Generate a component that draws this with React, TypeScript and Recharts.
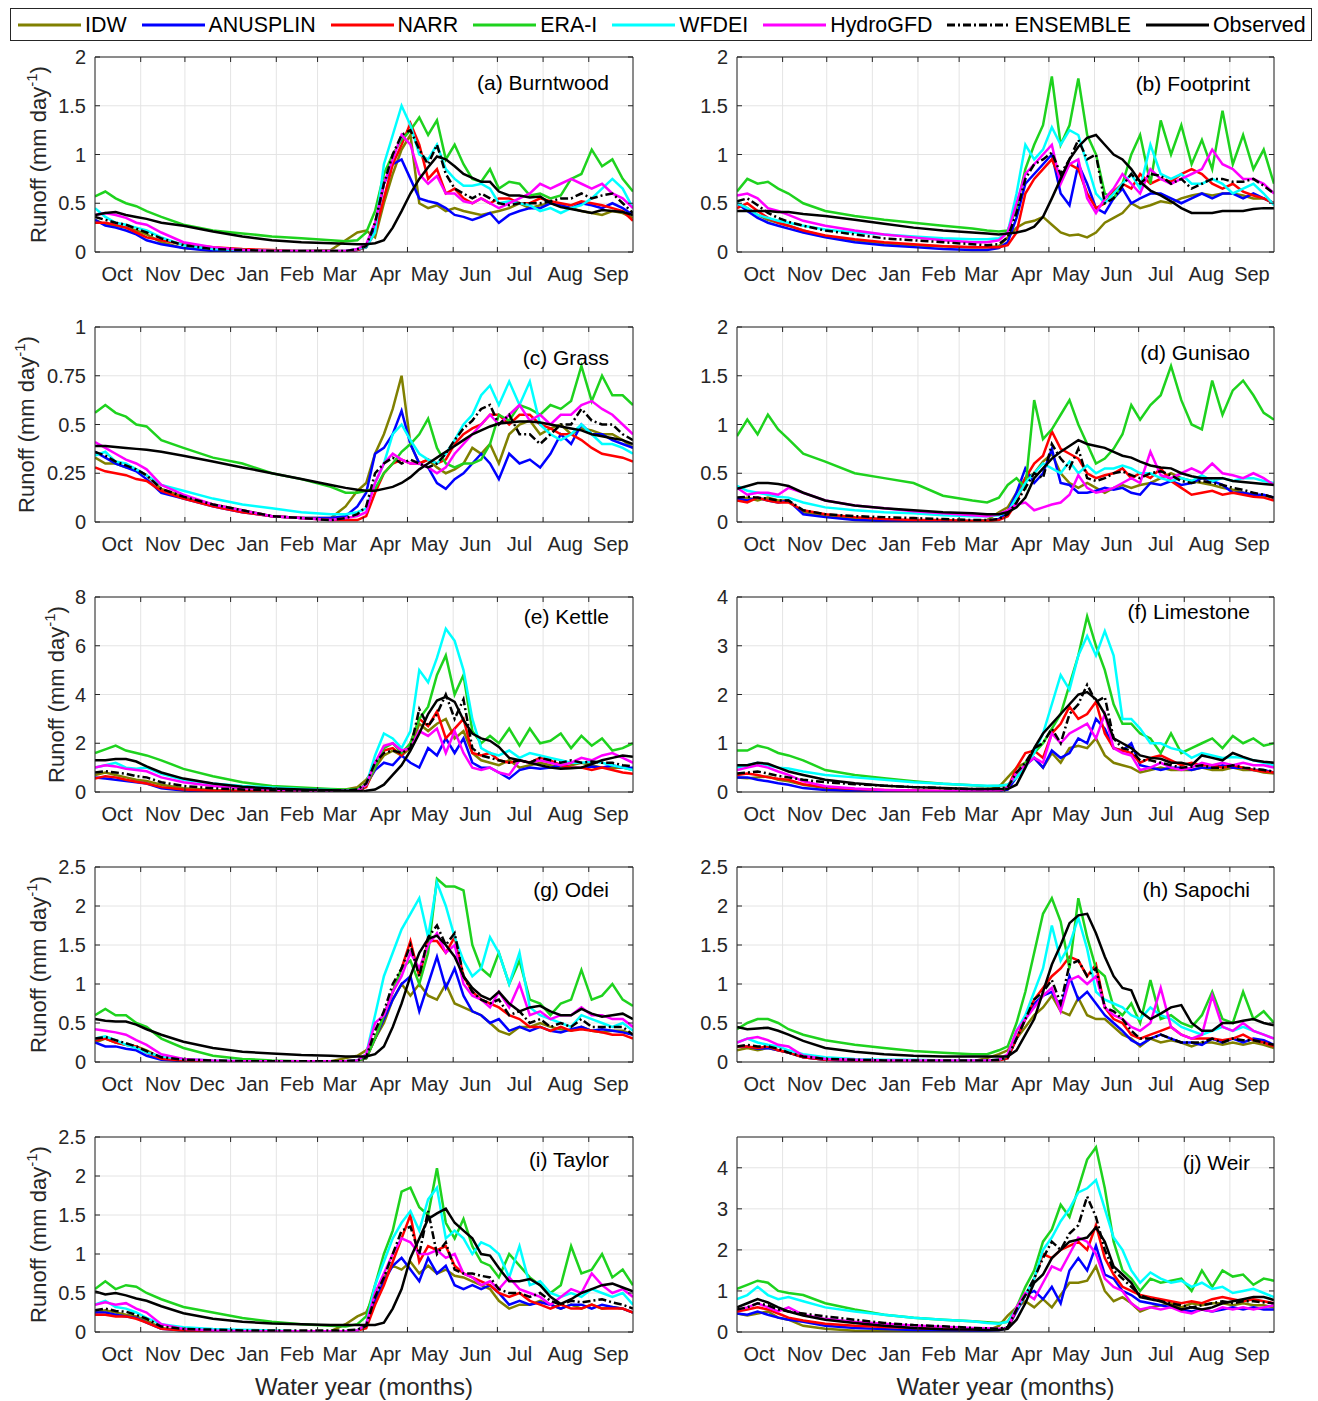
import React from 'react';
import { LineChart, Line, XAxis, YAxis, CartesianGrid } from 'recharts';

// Day of the water year (0 = 1 Oct) at which each runoff value is sampled
const DAYS = [0, 7, 14, 21, 28, 35, 45, 60, 80, 100, 120, 140, 160, 170,
  178, 184, 190, 196, 202, 208, 214, 220, 226, 232,
  238, 244, 250, 256, 262, 268, 274, 281, 288, 295,
  302, 309, 316, 323, 330, 337, 344, 351, 358, 365];

const MONTH_STARTS = [31, 61, 92, 123, 151, 182, 212, 243, 273, 304, 335];
const MONTH_MIDS = [15, 46, 76, 107, 137, 166, 197, 227, 258, 288, 319, 350];
const MONTH_LABELS = ['Oct', 'Nov', 'Dec', 'Jan', 'Feb', 'Mar', 'Apr', 'May', 'Jun', 'Jul', 'Aug', 'Sep'];

// (a) Burntwood
const burntwoodIdw = [0.33,0.28,0.27,0.25,0.22,0.18,0.10,0.04,0.02,0.01,0.005,0.01,0.02,0.12, 0.20,0.22,0.15,0.50,0.80,1.05,1.20,0.50,0.45,0.48, 0.42,0.45,0.42,0.40,0.38,0.40,0.42,0.45,0.50,0.45, 0.48,0.50,0.48,0.45,0.42,0.40,0.38,0.42,0.40,0.35];
const burntwoodAnu = [0.33,0.27,0.25,0.22,0.18,0.12,0.08,0.04,0.01,0.005,0,0,0,0, 0.02,0.05,0.25,0.70,0.90,0.95,0.75,0.55,0.52,0.50, 0.45,0.38,0.36,0.33,0.36,0.40,0.30,0.38,0.42,0.45, 0.45,0.50,0.48,0.45,0.50,0.48,0.45,0.50,0.45,0.38];
const burntwoodNarr = [0.30,0.30,0.28,0.25,0.20,0.15,0.12,0.08,0.05,0.03,0.02,0.01,0.01,0.01, 0.02,0.05,0.20,0.55,0.90,1.10,1.32,1.10,0.75,0.85, 0.60,0.65,0.55,0.50,0.55,0.50,0.55,0.55,0.50,0.50, 0.55,0.52,0.50,0.48,0.52,0.50,0.48,0.45,0.42,0.32];
const burntwoodEra = [0.57,0.62,0.55,0.50,0.47,0.42,0.36,0.28,0.22,0.19,0.16,0.14,0.12,0.11, 0.12,0.20,0.42,0.80,1.00,1.15,1.25,1.38,1.20,1.35, 0.95,1.10,0.90,0.75,0.72,0.85,0.65,0.72,0.70,0.58, 0.60,0.55,0.58,0.75,0.80,1.05,0.88,0.95,0.75,0.62];
const burntwoodWfdei = [0.45,0.36,0.30,0.28,0.25,0.22,0.15,0.07,0.03,0.02,0.01,0.01,0.01,0.01, 0.03,0.05,0.20,0.90,1.20,1.50,1.30,1.00,0.95,1.10, 0.85,0.75,0.68,0.68,0.70,0.65,0.50,0.52,0.50,0.48, 0.42,0.45,0.40,0.45,0.48,0.55,0.65,0.75,0.65,0.45];
const burntwoodHydro = [0.38,0.40,0.38,0.35,0.30,0.28,0.20,0.10,0.05,0.02,0.01,0.01,0.01,0.01, 0.03,0.08,0.30,0.70,0.95,1.20,1.10,0.80,0.70,0.78, 0.60,0.60,0.52,0.50,0.55,0.50,0.45,0.50,0.55,0.60, 0.70,0.65,0.70,0.75,0.70,0.65,0.70,0.60,0.55,0.45];
const burntwoodEns = [0.36,0.33,0.30,0.28,0.24,0.20,0.14,0.07,0.03,0.02,0.01,0.01,0.01,0.01, 0.03,0.06,0.30,0.70,1.00,1.20,1.25,1.05,0.90,1.10, 0.80,0.65,0.60,0.55,0.60,0.55,0.50,0.48,0.50,0.50, 0.50,0.52,0.55,0.55,0.60,0.55,0.58,0.60,0.50,0.40];
const burntwoodObs = [0.38,0.40,0.41,0.38,0.36,0.34,0.30,0.27,0.21,0.16,0.12,0.10,0.09,0.085, 0.08,0.08,0.09,0.12,0.25,0.42,0.60,0.75,0.87,0.98, 0.95,0.88,0.80,0.76,0.72,0.72,0.62,0.58,0.58,0.56, 0.57,0.50,0.46,0.44,0.42,0.40,0.43,0.42,0.41,0.38];

// (b) Footprint
const footprintIdw = [0.50,0.45,0.38,0.33,0.30,0.27,0.22,0.16,0.12,0.09,0.07,0.06,0.05,0.05, 0.06,0.15,0.25,0.30,0.32,0.36,0.28,0.20,0.17,0.18, 0.15,0.20,0.30,0.35,0.40,0.50,0.45,0.48,0.52,0.50, 0.55,0.58,0.60,0.58,0.60,0.60,0.58,0.55,0.55,0.50];
const footprintAnu = [0.50,0.42,0.35,0.30,0.27,0.24,0.20,0.15,0.10,0.07,0.05,0.03,0.02,0.02, 0.04,0.10,0.35,0.70,0.80,0.90,1.00,0.60,0.48,0.90, 0.70,0.45,0.40,0.55,0.65,0.50,0.55,0.60,0.60,0.55, 0.50,0.55,0.60,0.55,0.60,0.60,0.55,0.60,0.55,0.50];
const footprintNarr = [0.45,0.50,0.42,0.35,0.30,0.27,0.22,0.17,0.13,0.10,0.08,0.06,0.05,0.05, 0.05,0.07,0.20,0.60,0.75,0.85,0.95,0.75,0.90,0.85, 0.60,0.45,0.50,0.62,0.70,0.65,0.80,0.70,0.75,0.72, 0.80,0.85,0.80,0.70,0.65,0.70,0.62,0.58,0.55,0.50];
const footprintEra = [0.62,0.75,0.70,0.72,0.65,0.60,0.50,0.42,0.37,0.33,0.30,0.27,0.24,0.22, 0.21,0.22,0.45,0.85,1.10,1.30,1.80,1.10,1.30,1.78, 1.20,1.00,0.60,0.55,0.70,1.00,1.20,0.70,1.35,1.00, 1.30,0.90,1.15,0.85,1.45,0.90,1.20,0.85,1.05,0.70];
const footprintWfdei = [0.50,0.45,0.38,0.35,0.32,0.30,0.27,0.23,0.20,0.18,0.16,0.14,0.13,0.13, 0.14,0.20,0.60,1.10,0.95,1.05,1.28,1.10,1.25,1.20, 0.90,0.60,0.50,0.60,0.70,0.80,0.65,1.10,0.80,0.75, 0.80,0.70,0.70,0.75,0.70,0.60,0.65,0.70,0.60,0.48];
const footprintHydro = [0.58,0.60,0.55,0.45,0.42,0.38,0.32,0.27,0.22,0.18,0.15,0.12,0.10,0.10, 0.12,0.20,0.50,0.80,0.90,1.00,1.10,0.70,0.90,0.95, 0.55,0.40,0.55,0.65,0.80,0.70,0.60,0.85,0.75,0.70, 0.75,0.80,0.85,1.05,0.90,0.85,0.75,0.75,0.70,0.60];
const footprintEns = [0.52,0.55,0.48,0.40,0.35,0.31,0.27,0.22,0.18,0.14,0.12,0.10,0.08,0.07, 0.08,0.15,0.40,0.75,0.90,0.95,1.02,0.80,0.95,1.15, 0.95,1.00,0.50,0.55,0.68,0.80,0.70,0.80,0.78,0.70, 0.75,0.65,0.70,0.75,0.75,0.72,0.72,0.75,0.68,0.60];
const footprintObs = [0.42,0.42,0.42,0.42,0.41,0.41,0.39,0.37,0.33,0.29,0.25,0.22,0.20,0.19, 0.18,0.19,0.20,0.22,0.26,0.36,0.55,0.75,0.95,1.08, 1.17,1.20,1.10,1.00,0.95,0.85,0.72,0.63,0.58,0.52, 0.45,0.40,0.40,0.40,0.42,0.42,0.42,0.44,0.45,0.45];

// (c) Grass
const grassIdw = [0.33,0.30,0.30,0.28,0.27,0.24,0.17,0.13,0.09,0.06,0.03,0.02,0.02,0.08, 0.16,0.20,0.35,0.45,0.58,0.75,0.40,0.30,0.32,0.28, 0.25,0.27,0.30,0.38,0.35,0.40,0.30,0.45,0.50,0.52, 0.45,0.48,0.50,0.45,0.48,0.47,0.45,0.45,0.42,0.38];
const grassAnu = [0.36,0.33,0.30,0.28,0.26,0.22,0.15,0.12,0.08,0.05,0.03,0.02,0.02,0.03, 0.08,0.15,0.35,0.38,0.45,0.57,0.40,0.30,0.28,0.20, 0.17,0.22,0.25,0.30,0.35,0.30,0.22,0.35,0.30,0.32, 0.28,0.35,0.45,0.40,0.50,0.45,0.45,0.42,0.40,0.38];
const grassNarr = [0.28,0.26,0.25,0.24,0.22,0.21,0.16,0.12,0.08,0.05,0.03,0.02,0.01,0.01, 0.01,0.03,0.15,0.25,0.30,0.32,0.30,0.30,0.32,0.30, 0.32,0.40,0.45,0.48,0.50,0.55,0.55,0.50,0.55,0.55, 0.50,0.48,0.45,0.45,0.42,0.38,0.35,0.34,0.33,0.31];
const grassEra = [0.56,0.60,0.56,0.54,0.50,0.49,0.42,0.38,0.33,0.30,0.25,0.22,0.18,0.15, 0.15,0.16,0.17,0.25,0.30,0.36,0.40,0.45,0.53,0.38, 0.30,0.28,0.30,0.30,0.32,0.40,0.55,0.52,0.60,0.58, 0.55,0.60,0.58,0.62,0.80,0.62,0.75,0.65,0.65,0.60];
const grassWfdei = [0.34,0.36,0.31,0.30,0.27,0.24,0.19,0.16,0.12,0.09,0.07,0.05,0.04,0.04, 0.05,0.07,0.20,0.30,0.45,0.50,0.42,0.35,0.32,0.30, 0.35,0.42,0.50,0.55,0.65,0.70,0.60,0.72,0.60,0.72, 0.50,0.45,0.42,0.45,0.50,0.45,0.40,0.40,0.38,0.35];
const grassHydro = [0.41,0.38,0.35,0.32,0.30,0.27,0.19,0.14,0.09,0.06,0.03,0.02,0.01,0.02, 0.03,0.05,0.20,0.30,0.35,0.32,0.30,0.30,0.28,0.25, 0.28,0.35,0.40,0.45,0.50,0.55,0.50,0.55,0.60,0.52, 0.55,0.50,0.55,0.55,0.60,0.62,0.58,0.55,0.50,0.45];
const grassEns = [0.36,0.34,0.31,0.29,0.27,0.24,0.17,0.13,0.09,0.06,0.03,0.02,0.01,0.02, 0.04,0.08,0.25,0.30,0.33,0.30,0.32,0.30,0.28,0.30, 0.35,0.42,0.48,0.52,0.58,0.60,0.50,0.55,0.45,0.45, 0.40,0.45,0.50,0.50,0.58,0.52,0.50,0.50,0.45,0.42];
const grassObs = [0.39,0.39,0.385,0.38,0.375,0.37,0.36,0.34,0.31,0.28,0.25,0.22,0.19,0.175, 0.165,0.16,0.16,0.17,0.18,0.20,0.23,0.27,0.30,0.33, 0.36,0.39,0.42,0.45,0.47,0.49,0.505,0.51,0.515,0.515, 0.51,0.50,0.49,0.48,0.47,0.45,0.44,0.43,0.42,0.40];

// (d) Gunisao
const gunisaoIdw = [0.22,0.25,0.22,0.25,0.22,0.22,0.10,0.06,0.03,0.02,0.01,0.01,0.01,0.02, 0.10,0.15,0.30,0.45,0.50,0.62,0.70,0.50,0.40,0.35, 0.40,0.35,0.30,0.35,0.38,0.35,0.38,0.40,0.45,0.50, 0.45,0.42,0.40,0.38,0.35,0.33,0.30,0.28,0.27,0.25];
const gunisaoAnu = [0.24,0.22,0.25,0.22,0.20,0.22,0.08,0.05,0.02,0.01,0.01,0.01,0.01,0.01, 0.03,0.10,0.30,0.55,0.40,0.50,0.75,0.40,0.38,0.30, 0.30,0.32,0.35,0.33,0.35,0.30,0.28,0.40,0.38,0.42, 0.38,0.40,0.45,0.42,0.38,0.30,0.30,0.28,0.28,0.25];
const gunisaoNarr = [0.22,0.20,0.25,0.22,0.20,0.20,0.12,0.08,0.05,0.03,0.02,0.02,0.01,0.01, 0.02,0.06,0.20,0.45,0.60,0.68,0.93,0.75,0.70,0.65, 0.50,0.45,0.48,0.50,0.55,0.45,0.50,0.45,0.55,0.42, 0.35,0.28,0.30,0.32,0.28,0.30,0.28,0.26,0.25,0.22];
const gunisaoEra = [0.88,1.05,0.90,1.10,0.95,0.85,0.70,0.62,0.50,0.45,0.40,0.27,0.22,0.20, 0.25,0.38,0.45,0.35,1.25,0.85,0.95,1.10,1.25,1.00, 0.80,0.60,0.65,0.75,0.90,1.20,1.05,1.20,1.30,1.60, 1.25,1.00,0.95,1.45,1.10,1.35,1.45,1.30,1.12,1.05];
const gunisaoWfdei = [0.37,0.32,0.30,0.28,0.26,0.25,0.20,0.15,0.12,0.10,0.09,0.07,0.06,0.06, 0.07,0.10,0.25,0.40,0.50,0.60,0.55,0.50,0.62,0.50, 0.58,0.50,0.55,0.55,0.58,0.55,0.50,0.50,0.45,0.42, 0.45,0.42,0.48,0.42,0.45,0.42,0.45,0.45,0.42,0.40];
const gunisaoHydro = [0.35,0.28,0.30,0.30,0.28,0.35,0.30,0.22,0.17,0.14,0.11,0.09,0.07,0.06, 0.08,0.12,0.18,0.20,0.12,0.15,0.18,0.20,0.28,0.48, 0.35,0.30,0.32,0.35,0.40,0.45,0.40,0.72,0.48,0.45, 0.50,0.55,0.50,0.60,0.50,0.48,0.45,0.50,0.45,0.38];
const gunisaoEns = [0.25,0.26,0.25,0.24,0.22,0.22,0.12,0.08,0.06,0.05,0.04,0.03,0.02,0.02, 0.03,0.08,0.20,0.35,0.50,0.45,0.80,0.65,0.55,0.75, 0.45,0.42,0.45,0.50,0.52,0.48,0.45,0.50,0.52,0.48, 0.42,0.40,0.42,0.40,0.38,0.35,0.33,0.30,0.28,0.25];
const gunisaoObs = [0.34,0.37,0.40,0.40,0.39,0.37,0.30,0.22,0.17,0.14,0.12,0.10,0.09,0.08, 0.08,0.10,0.15,0.25,0.45,0.55,0.65,0.72,0.78,0.84, 0.80,0.78,0.76,0.72,0.68,0.66,0.62,0.58,0.56,0.55, 0.50,0.47,0.45,0.45,0.45,0.42,0.41,0.40,0.39,0.38];

// (e) Kettle
const kettleIdw = [0.70,0.80,0.70,0.60,0.50,0.45,0.30,0.15,0.08,0.05,0.04,0.04,0.05,0.10, 0.20,0.50,1.00,1.50,1.70,1.50,1.80,2.80,2.50,2.80, 3.00,2.20,2.50,1.60,1.30,1.20,1.10,1.30,1.00,1.10, 1.20,1.10,1.00,1.10,1.20,1.10,1.00,1.00,1.00,0.90];
const kettleAnu = [0.60,0.55,0.50,0.45,0.40,0.35,0.15,0.06,0.02,0.01,0.01,0.01,0.01,0.02, 0.05,0.30,0.90,1.20,1.10,1.50,1.20,1.00,1.80,1.50, 2.20,1.60,2.20,1.20,1.00,1.00,0.80,0.55,0.90,1.00, 0.95,1.00,1.10,1.00,1.00,1.05,1.00,1.10,1.00,1.00];
const kettleNarr = [0.55,0.65,0.60,0.50,0.42,0.35,0.20,0.10,0.05,0.03,0.02,0.02,0.02,0.03, 0.05,0.20,1.00,1.70,1.80,1.50,2.00,3.00,2.70,3.30, 2.20,2.60,3.00,1.60,1.50,1.60,1.30,1.20,1.30,1.20, 1.40,1.30,1.10,1.00,1.00,0.90,1.00,0.90,0.80,0.75];
const kettleEra = [1.60,1.75,1.90,1.70,1.60,1.50,1.30,0.95,0.65,0.40,0.25,0.18,0.12,0.10, 0.12,0.30,1.00,1.80,2.00,1.60,2.00,3.00,3.50,4.80, 5.60,4.00,4.80,2.50,2.00,2.30,2.00,2.60,1.90,2.60, 2.00,2.10,2.40,1.80,2.30,1.90,2.20,1.70,1.80,2.00];
const kettleWfdei = [1.00,1.10,1.20,1.00,0.95,1.00,0.75,0.50,0.35,0.25,0.18,0.12,0.08,0.06, 0.06,0.30,1.50,2.40,2.20,1.80,2.50,5.00,4.50,5.50, 6.70,6.20,5.00,3.00,1.80,1.60,1.50,1.70,1.40,1.60, 1.50,1.40,1.30,1.20,1.20,1.25,1.20,1.10,1.00,0.90];
const kettleHydro = [1.00,1.10,1.05,0.95,0.90,0.85,0.60,0.40,0.25,0.15,0.10,0.06,0.05,0.05, 0.06,0.30,1.20,1.90,2.00,1.70,1.80,2.50,2.30,2.60, 1.60,2.50,1.60,1.00,0.90,1.00,0.80,0.70,1.30,1.20, 1.30,1.20,1.10,1.20,1.40,1.30,1.50,1.60,1.40,1.20];
const kettleEns = [0.80,0.85,0.80,0.75,0.65,0.60,0.40,0.25,0.15,0.10,0.07,0.05,0.05,0.06, 0.10,0.35,1.20,1.60,1.70,1.60,1.80,3.40,2.70,3.20, 4.00,3.00,3.80,1.80,1.50,1.40,1.30,1.20,1.30,1.20, 1.40,1.30,1.20,1.30,1.20,1.25,1.20,1.20,1.10,1.05];
const kettleObs = [1.30,1.30,1.35,1.35,1.25,1.05,0.80,0.55,0.35,0.22,0.14,0.10,0.07,0.05, 0.04,0.05,0.10,0.30,0.70,1.10,1.70,2.40,3.20,3.75, 3.90,3.70,2.95,2.40,2.20,2.10,1.85,1.40,1.30,1.20, 1.10,1.00,0.95,0.97,1.00,1.15,1.30,1.40,1.50,1.45];

// (f) Limestone
const limestoneIdw = [0.30,0.28,0.30,0.32,0.25,0.22,0.15,0.08,0.04,0.02,0.02,0.02,0.02,0.05, 0.10,0.30,0.50,0.60,0.70,0.50,0.80,0.60,0.90,0.95, 0.90,1.10,0.75,0.60,0.55,0.50,0.40,0.45,0.50,0.45, 0.45,0.45,0.50,0.45,0.45,0.50,0.45,0.45,0.40,0.38];
const limestoneAnu = [0.30,0.30,0.25,0.22,0.18,0.15,0.08,0.04,0.02,0.01,0.01,0.01,0.01,0.01, 0.02,0.05,0.30,0.55,0.70,0.50,0.85,0.70,0.80,1.10, 1.00,1.50,1.30,0.90,0.85,1.00,0.55,0.50,0.45,0.50, 0.50,0.45,0.50,0.50,0.55,0.50,0.50,0.45,0.45,0.40];
const limestoneNarr = [0.35,0.38,0.35,0.30,0.27,0.25,0.16,0.10,0.06,0.04,0.03,0.02,0.02,0.02, 0.03,0.08,0.50,0.80,0.85,0.70,1.20,1.40,1.75,1.50, 1.60,1.85,1.20,0.90,0.85,0.80,0.60,0.70,0.75,0.65, 0.55,0.60,0.55,0.55,0.50,0.55,0.50,0.45,0.42,0.40];
const limestoneEra = [0.85,0.85,0.95,0.90,0.80,0.75,0.65,0.45,0.35,0.28,0.22,0.17,0.14,0.12, 0.13,0.15,0.30,0.60,0.80,1.00,1.30,1.60,2.20,2.80, 3.60,3.00,2.50,1.80,1.40,1.40,1.20,1.10,0.80,1.20, 0.80,0.90,1.00,1.10,0.90,1.15,1.00,1.10,0.95,1.00];
const limestoneWfdei = [0.50,0.55,0.60,0.55,0.50,0.48,0.42,0.35,0.30,0.25,0.20,0.17,0.14,0.13, 0.13,0.15,0.30,0.50,0.80,1.20,1.80,2.40,2.10,2.80, 3.20,2.80,3.30,2.80,1.50,1.50,1.30,1.00,1.00,0.90, 0.85,0.70,0.80,0.75,0.70,0.72,0.70,0.65,0.60,0.55];
const limestoneHydro = [0.45,0.50,0.55,0.50,0.42,0.35,0.22,0.12,0.07,0.04,0.03,0.02,0.02,0.02, 0.03,0.10,0.40,0.55,0.70,0.60,1.20,1.00,1.20,1.30, 1.40,1.10,1.60,0.90,0.80,0.75,0.45,0.50,0.60,0.50, 0.45,0.50,0.60,0.55,0.60,0.55,0.60,0.55,0.55,0.50];
const limestoneEns = [0.38,0.40,0.42,0.38,0.33,0.30,0.25,0.20,0.16,0.13,0.10,0.08,0.06,0.06, 0.07,0.10,0.40,0.60,0.90,1.00,1.30,1.00,1.60,1.80, 2.20,1.85,1.95,1.10,0.90,0.85,0.65,0.65,0.60,0.55, 0.50,0.52,0.55,0.50,0.50,0.55,0.50,0.48,0.45,0.42];
const limestoneObs = [0.55,0.55,0.60,0.58,0.50,0.42,0.35,0.25,0.18,0.13,0.10,0.08,0.06,0.06, 0.06,0.06,0.15,0.50,0.90,1.20,1.40,1.60,1.80,2.00, 2.05,1.90,1.60,1.10,1.00,0.90,0.75,0.70,0.68,0.60, 0.60,0.55,0.75,0.70,0.65,0.80,0.72,0.65,0.62,0.60];

// (g) Odei
const odeiIdw = [0.25,0.30,0.25,0.22,0.20,0.15,0.05,0.02,0.01,0.01,0.01,0.01,0.01,0.05, 0.08,0.15,0.30,0.50,0.80,1.00,0.85,1.00,0.85,0.80, 1.00,0.75,0.70,0.65,0.60,0.50,0.40,0.35,0.45,0.45, 0.50,0.45,0.42,0.40,0.45,0.40,0.38,0.40,0.40,0.35];
const odeiAnu = [0.25,0.20,0.20,0.17,0.15,0.08,0.03,0.01,0.01,0.01,0.01,0.01,0.01,0.01, 0.02,0.05,0.30,0.55,0.80,1.00,1.10,0.65,1.00,1.35, 0.95,1.20,0.85,0.65,0.60,0.50,0.55,0.40,0.45,0.40, 0.45,0.40,0.38,0.42,0.45,0.40,0.42,0.40,0.38,0.35];
const odeiNarr = [0.28,0.30,0.25,0.22,0.20,0.12,0.04,0.02,0.01,0.01,0.01,0.01,0.01,0.01, 0.02,0.05,0.30,0.60,0.90,1.20,1.55,1.10,1.55,1.55, 1.40,1.60,1.10,0.90,0.80,0.75,0.70,0.60,0.55,0.45, 0.45,0.40,0.45,0.40,0.42,0.40,0.38,0.35,0.35,0.30];
const odeiEra = [0.60,0.68,0.60,0.60,0.50,0.45,0.30,0.18,0.08,0.04,0.02,0.01,0.01,0.01, 0.02,0.05,0.30,0.60,0.90,1.20,1.30,1.00,1.40,2.35, 2.25,2.25,2.20,1.50,1.20,1.10,1.40,1.00,1.30,0.80, 0.75,0.60,0.75,0.80,1.18,0.80,0.85,1.00,0.80,0.72];
const odeiWfdei = [0.30,0.33,0.28,0.22,0.18,0.12,0.07,0.04,0.02,0.01,0.01,0.01,0.01,0.01, 0.02,0.10,0.60,1.10,1.40,1.70,1.90,2.10,1.60,2.30, 2.00,1.60,1.30,1.10,1.20,1.60,1.40,1.00,1.40,0.70, 0.60,0.55,0.50,0.45,0.60,0.55,0.50,0.45,0.50,0.40];
const odeiHydro = [0.42,0.40,0.38,0.35,0.28,0.22,0.10,0.04,0.02,0.01,0.01,0.01,0.01,0.01, 0.02,0.10,0.50,0.60,0.90,1.10,1.40,1.20,1.50,1.65, 1.40,1.50,1.00,0.85,0.80,0.70,0.90,0.70,1.00,0.60, 0.65,0.55,0.60,0.60,0.70,0.60,0.60,0.55,0.55,0.45];
const odeiEns = [0.30,0.32,0.28,0.24,0.20,0.14,0.06,0.03,0.02,0.01,0.01,0.01,0.01,0.01, 0.02,0.06,0.40,0.65,1.00,1.20,1.50,1.10,1.60,1.75, 1.50,1.65,1.10,0.90,0.80,0.75,0.80,0.60,0.65,0.50, 0.55,0.45,0.50,0.45,0.55,0.45,0.45,0.45,0.45,0.35];
const odeiObs = [0.55,0.53,0.52,0.52,0.48,0.42,0.35,0.26,0.18,0.13,0.11,0.09,0.08,0.07, 0.07,0.07,0.10,0.20,0.45,0.75,1.10,1.40,1.58,1.62, 1.50,1.35,1.10,0.95,0.85,0.80,0.90,0.75,0.65,0.70, 0.72,0.65,0.60,0.60,0.68,0.62,0.58,0.60,0.62,0.55];

// (h) Sapochi
const sapochiIdw = [0.15,0.18,0.15,0.18,0.15,0.12,0.06,0.03,0.02,0.01,0.01,0.01,0.01,0.05, 0.10,0.15,0.30,0.45,0.60,0.70,0.85,0.65,0.60,0.82, 0.60,0.55,0.55,0.45,0.35,0.30,0.20,0.30,0.25,0.28, 0.25,0.20,0.25,0.25,0.22,0.25,0.22,0.25,0.22,0.18];
const sapochiAnu = [0.20,0.20,0.17,0.18,0.15,0.12,0.06,0.03,0.01,0.01,0.01,0.01,0.01,0.01, 0.03,0.05,0.30,0.55,0.75,0.85,0.90,0.70,1.10,0.80, 0.90,0.75,0.60,0.50,0.40,0.28,0.22,0.30,0.35,0.30, 0.25,0.25,0.22,0.30,0.25,0.30,0.25,0.30,0.28,0.22];
const sapochiNarr = [0.20,0.20,0.18,0.20,0.15,0.12,0.06,0.03,0.02,0.01,0.01,0.01,0.01,0.01, 0.02,0.05,0.30,0.55,0.80,0.95,1.10,1.20,1.35,1.30, 1.10,1.25,0.70,0.55,0.50,0.35,0.30,0.35,0.40,0.45, 0.35,0.30,0.30,0.30,0.28,0.30,0.35,0.28,0.25,0.20];
const sapochiEra = [0.42,0.50,0.55,0.55,0.50,0.42,0.35,0.28,0.22,0.18,0.14,0.12,0.10,0.10, 0.15,0.20,0.50,0.90,1.40,1.90,2.10,1.80,1.20,2.10, 1.60,1.20,1.10,0.70,0.60,0.75,0.50,1.05,0.55,0.60, 0.50,0.45,0.60,0.90,0.55,0.50,0.90,0.55,0.65,0.50];
const sapochiWfdei = [0.25,0.30,0.25,0.22,0.20,0.15,0.10,0.06,0.04,0.03,0.03,0.02,0.02,0.02, 0.03,0.08,0.40,0.60,0.90,1.20,1.75,1.30,1.50,1.85, 1.45,0.90,0.80,0.75,0.70,0.60,0.55,0.70,0.60,0.55, 0.45,0.40,0.35,0.40,0.45,0.40,0.45,0.40,0.35,0.30];
const sapochiHydro = [0.25,0.30,0.32,0.28,0.22,0.20,0.08,0.04,0.03,0.02,0.02,0.02,0.02,0.02, 0.03,0.10,0.40,0.55,0.70,0.85,0.95,0.65,1.05,1.10, 1.00,1.10,0.70,0.60,0.55,0.45,0.40,0.50,0.95,0.45, 0.35,0.30,0.35,0.85,0.45,0.40,0.50,0.40,0.35,0.30];
const sapochiEns = [0.20,0.22,0.20,0.20,0.17,0.12,0.07,0.04,0.03,0.02,0.02,0.02,0.02,0.02, 0.03,0.06,0.30,0.55,0.80,0.90,1.05,0.75,1.25,1.30, 1.10,1.20,0.70,0.65,0.55,0.40,0.30,0.30,0.35,0.30, 0.25,0.25,0.25,0.30,0.25,0.30,0.28,0.28,0.25,0.22];
const sapochiObs = [0.45,0.42,0.43,0.44,0.40,0.35,0.27,0.18,0.13,0.10,0.08,0.07,0.07,0.07, 0.07,0.07,0.15,0.35,0.55,0.90,1.25,1.50,1.78,1.88, 1.90,1.65,1.35,1.10,0.95,0.92,0.65,0.55,0.62,0.70, 0.73,0.50,0.40,0.40,0.50,0.50,0.53,0.55,0.50,0.47];

// (i) Taylor
const taylorIdw = [0.25,0.28,0.25,0.22,0.20,0.15,0.05,0.02,0.01,0.01,0.01,0.01,0.01,0.10, 0.20,0.25,0.50,0.70,0.85,0.80,0.90,0.75,0.85,0.75, 0.80,0.72,0.70,0.65,0.60,0.55,0.40,0.30,0.35,0.35, 0.40,0.35,0.30,0.35,0.30,0.35,0.30,0.32,0.30,0.25];
const taylorAnu = [0.25,0.25,0.22,0.20,0.18,0.12,0.04,0.02,0.01,0.01,0.01,0.01,0.01,0.01, 0.02,0.10,0.40,0.65,0.85,0.95,0.80,0.65,0.95,0.75, 0.85,0.60,0.55,0.60,0.55,0.60,0.50,0.35,0.40,0.35, 0.38,0.35,0.30,0.35,0.35,0.30,0.35,0.32,0.30,0.25];
const taylorNarr = [0.22,0.22,0.20,0.20,0.17,0.12,0.04,0.02,0.01,0.01,0.01,0.01,0.01,0.01, 0.02,0.05,0.35,0.60,0.90,1.20,1.50,0.90,1.10,1.05, 1.10,0.85,0.75,0.70,0.65,0.60,0.50,0.45,0.50,0.40, 0.35,0.30,0.35,0.30,0.30,0.35,0.30,0.30,0.30,0.25];
const taylorEra = [0.55,0.65,0.55,0.60,0.58,0.50,0.42,0.32,0.25,0.18,0.13,0.10,0.08,0.07, 0.10,0.20,0.60,1.00,1.30,1.80,1.85,1.60,1.50,2.10, 1.40,1.20,1.45,1.10,0.90,0.85,0.70,1.00,0.85,0.70, 0.60,0.50,0.60,1.10,0.75,0.80,1.00,0.70,0.80,0.60];
const taylorWfdei = [0.35,0.40,0.32,0.30,0.25,0.18,0.10,0.06,0.04,0.03,0.02,0.01,0.01,0.01, 0.02,0.10,0.60,0.90,1.20,1.40,1.55,1.30,1.70,1.85, 1.20,1.30,1.20,1.00,1.15,1.10,1.00,0.70,1.10,0.60, 0.65,0.50,0.45,0.50,0.45,0.55,0.50,0.45,0.50,0.35];
const taylorHydro = [0.35,0.38,0.35,0.37,0.30,0.25,0.10,0.04,0.02,0.01,0.01,0.01,0.01,0.01, 0.02,0.10,0.50,0.75,1.00,1.20,1.15,1.00,1.00,1.05, 0.95,1.00,0.75,0.70,0.60,0.65,0.55,0.70,0.55,0.50, 0.45,0.35,0.45,0.55,0.50,0.75,0.60,0.50,0.55,0.45];
const taylorEns = [0.28,0.30,0.27,0.26,0.22,0.17,0.07,0.04,0.03,0.02,0.02,0.02,0.02,0.02, 0.03,0.08,0.45,0.70,1.00,1.30,1.35,1.00,1.55,1.00, 1.15,0.80,0.75,0.75,0.72,0.70,0.55,0.50,0.50,0.45, 0.50,0.40,0.35,0.40,0.38,0.40,0.42,0.38,0.35,0.30];
const taylorObs = [0.52,0.48,0.50,0.47,0.43,0.40,0.33,0.24,0.17,0.13,0.11,0.10,0.09,0.09, 0.09,0.09,0.09,0.12,0.30,0.55,0.95,1.20,1.45,1.52, 1.58,1.40,1.30,1.20,1.00,0.98,0.82,0.65,0.65,0.68, 0.60,0.45,0.36,0.42,0.50,0.55,0.60,0.62,0.57,0.52];

// (j) Weir
const weirIdw = [0.45,0.40,0.45,0.50,0.35,0.30,0.15,0.08,0.03,0.02,0.01,0.01,0.01,0.03, 0.15,0.40,0.60,0.75,0.60,0.80,0.60,0.90,1.20,1.20, 1.25,1.60,1.00,0.75,0.85,0.70,0.50,0.60,0.65,0.70, 0.60,0.70,0.65,0.70,0.70,0.65,0.70,0.65,0.65,0.60];
const weirAnu = [0.45,0.42,0.50,0.42,0.35,0.30,0.25,0.15,0.10,0.07,0.05,0.04,0.03,0.03, 0.04,0.10,0.50,0.90,1.00,0.80,1.10,0.70,1.50,1.80, 1.50,2.10,1.40,1.30,1.00,0.90,0.75,0.70,0.65,0.60, 0.55,0.50,0.55,0.50,0.55,0.60,0.55,0.60,0.55,0.55];
const weirNarr = [0.50,0.55,0.60,0.55,0.45,0.35,0.28,0.20,0.15,0.12,0.10,0.08,0.07,0.06, 0.06,0.10,0.55,0.90,1.30,1.90,1.80,2.00,2.10,2.20, 2.00,2.60,1.80,1.40,1.10,1.00,0.90,0.85,0.80,0.75, 0.70,0.75,0.70,0.80,0.85,0.80,0.75,0.80,0.75,0.70];
const weirEra = [1.05,1.15,1.25,1.20,1.00,0.95,0.90,0.70,0.55,0.42,0.35,0.30,0.26,0.24, 0.22,0.25,0.60,1.10,1.50,2.20,2.50,3.10,2.80,3.50, 4.20,4.50,3.50,2.20,1.50,1.30,1.00,1.30,1.20,1.25, 1.30,1.00,1.50,1.10,1.50,1.35,1.40,1.15,1.30,1.25];
const weirWfdei = [0.80,0.90,1.10,0.90,0.80,0.85,0.75,0.60,0.50,0.42,0.35,0.30,0.26,0.22, 0.20,0.25,0.55,0.90,1.30,2.00,2.30,2.70,3.00,3.40, 3.50,3.70,3.00,2.30,2.00,1.50,1.20,1.45,1.30,1.20, 1.25,1.10,1.20,1.05,1.10,0.95,1.00,1.05,0.95,0.85];
const weirHydro = [0.55,0.60,0.70,0.60,0.50,0.60,0.42,0.32,0.25,0.20,0.16,0.13,0.10,0.09, 0.08,0.10,0.60,0.95,0.80,1.20,1.60,1.50,1.90,2.30, 2.20,1.90,1.30,1.10,1.00,0.70,0.55,0.60,0.55,0.60, 0.50,0.45,0.55,0.50,0.60,0.55,0.60,0.55,0.60,0.65];
const weirEns = [0.55,0.60,0.70,0.65,0.55,0.50,0.45,0.38,0.30,0.22,0.17,0.14,0.10,0.09, 0.08,0.12,0.55,0.90,1.30,1.80,2.20,2.00,2.40,2.60, 3.30,2.80,2.00,1.50,1.30,1.10,0.90,0.80,0.75,0.70, 0.65,0.60,0.65,0.70,0.75,0.70,0.75,0.75,0.72,0.70];
const weirObs = [0.60,0.70,0.80,0.72,0.60,0.50,0.40,0.30,0.22,0.15,0.10,0.07,0.06,0.05, 0.05,0.08,0.30,0.70,1.20,1.40,1.80,2.00,2.20,2.25, 2.30,2.55,2.20,1.60,1.40,1.20,0.85,0.80,0.75,0.65, 0.55,0.60,0.55,0.60,0.70,0.75,0.80,0.85,0.85,0.78];

const FONT = '"Liberation Sans", Arial, Helvetica, sans-serif';
const AXIS = '#262626';
const GRID = '#e4e4e4';
const ENSEMBLE_DASH = '8 3 2 3';

type SeriesKey = 'idw' | 'anu' | 'narr' | 'era' | 'wfdei' | 'hydro' | 'ens' | 'obs';

const SERIES: { key: SeriesKey; name: string; color: string; dash?: string }[] = [
  { key: 'idw', name: 'IDW', color: '#808000' },
  { key: 'anu', name: 'ANUSPLIN', color: '#0000ff' },
  { key: 'narr', name: 'NARR', color: '#ff0000' },
  { key: 'era', name: 'ERA-I', color: '#1ed21e' },
  { key: 'wfdei', name: 'WFDEI', color: '#00ffff' },
  { key: 'hydro', name: 'HydroGFD', color: '#ff00ff' },
  { key: 'ens', name: 'ENSEMBLE', color: '#000000', dash: ENSEMBLE_DASH },
  { key: 'obs', name: 'Observed', color: '#000000' },
];

type PanelDef = {
  title: string;
  yMax: number;
  yTicks: number[];
  values: Record<SeriesKey, number[]>;
};

const PANELS: PanelDef[] = [
  { title: '(a) Burntwood', yMax: 2, yTicks: [0, 0.5, 1, 1.5, 2],
    values: { idw: burntwoodIdw, anu: burntwoodAnu, narr: burntwoodNarr, era: burntwoodEra, wfdei: burntwoodWfdei, hydro: burntwoodHydro, ens: burntwoodEns, obs: burntwoodObs } },
  { title: '(b) Footprint', yMax: 2, yTicks: [0, 0.5, 1, 1.5, 2],
    values: { idw: footprintIdw, anu: footprintAnu, narr: footprintNarr, era: footprintEra, wfdei: footprintWfdei, hydro: footprintHydro, ens: footprintEns, obs: footprintObs } },
  { title: '(c) Grass', yMax: 1, yTicks: [0, 0.25, 0.5, 0.75, 1],
    values: { idw: grassIdw, anu: grassAnu, narr: grassNarr, era: grassEra, wfdei: grassWfdei, hydro: grassHydro, ens: grassEns, obs: grassObs } },
  { title: '(d) Gunisao', yMax: 2, yTicks: [0, 0.5, 1, 1.5, 2],
    values: { idw: gunisaoIdw, anu: gunisaoAnu, narr: gunisaoNarr, era: gunisaoEra, wfdei: gunisaoWfdei, hydro: gunisaoHydro, ens: gunisaoEns, obs: gunisaoObs } },
  { title: '(e) Kettle', yMax: 8, yTicks: [0, 2, 4, 6, 8],
    values: { idw: kettleIdw, anu: kettleAnu, narr: kettleNarr, era: kettleEra, wfdei: kettleWfdei, hydro: kettleHydro, ens: kettleEns, obs: kettleObs } },
  { title: '(f) Limestone', yMax: 4, yTicks: [0, 1, 2, 3, 4],
    values: { idw: limestoneIdw, anu: limestoneAnu, narr: limestoneNarr, era: limestoneEra, wfdei: limestoneWfdei, hydro: limestoneHydro, ens: limestoneEns, obs: limestoneObs } },
  { title: '(g) Odei', yMax: 2.5, yTicks: [0, 0.5, 1, 1.5, 2, 2.5],
    values: { idw: odeiIdw, anu: odeiAnu, narr: odeiNarr, era: odeiEra, wfdei: odeiWfdei, hydro: odeiHydro, ens: odeiEns, obs: odeiObs } },
  { title: '(h) Sapochi', yMax: 2.5, yTicks: [0, 0.5, 1, 1.5, 2, 2.5],
    values: { idw: sapochiIdw, anu: sapochiAnu, narr: sapochiNarr, era: sapochiEra, wfdei: sapochiWfdei, hydro: sapochiHydro, ens: sapochiEns, obs: sapochiObs } },
  { title: '(i) Taylor', yMax: 2.5, yTicks: [0, 0.5, 1, 1.5, 2, 2.5],
    values: { idw: taylorIdw, anu: taylorAnu, narr: taylorNarr, era: taylorEra, wfdei: taylorWfdei, hydro: taylorHydro, ens: taylorEns, obs: taylorObs } },
  { title: '(j) Weir', yMax: 4.75, yTicks: [0, 1, 2, 3, 4],
    values: { idw: weirIdw, anu: weirAnu, narr: weirNarr, era: weirEra, wfdei: weirWfdei, hydro: weirHydro, ens: weirEns, obs: weirObs } },
];

// Page layout of the 5 x 2 grid of axes
const PLOT_TOPS = [57, 327, 597, 867, 1137];
const PLOT_H = 195;
const COLS = [
  { chartLeft: 0, chartWidth: 660, plotLeft: 95, plotRight: 633 },
  { chartLeft: 660, chartWidth: 658, plotLeft: 737, plotRight: 1274 },
];
const TITLE_OFFSETS = [33, 34, 38, 33, 27, 22, 30, 30, 30, 33];
// y-label baseline sits just left of the widest tick label in each row
const Y_LABEL_X = [46, 34, 64, 46, 46];
const Y_AXIS_W = 40;
const TOP_MARGIN = 10;
const CHART_H = 240;

const leftTick = (props: any) => {
  const { x, y, payload } = props;
  return (
    <g>
      <line x1={x} y1={y} x2={x + 5} y2={y} stroke={AXIS} strokeWidth={1} />
      <text x={x - 9} y={y} dy="0.35em" textAnchor="end" fontSize={20} fontFamily={FONT} fill={AXIS}>
        {String(payload.value)}
      </text>
    </g>
  );
};

const rightTick = (props: any) => {
  const { x, y } = props;
  return <line x1={x} y1={y} x2={x - 5} y2={y} stroke={AXIS} strokeWidth={1} />;
};

const bottomTick = (props: any) => {
  const { x, y } = props;
  return <line x1={x} y1={y} x2={x} y2={y - 5} stroke={AXIS} strokeWidth={1} />;
};

const topTick = (props: any) => {
  const { x, y } = props;
  return <line x1={x} y1={y} x2={x} y2={y + 5} stroke={AXIS} strokeWidth={1} />;
};

const monthTick = (props: any) => {
  const { x, y, index } = props;
  return (
    <text x={x} y={y + 21} dy="0.35em" textAnchor="middle" fontSize={20} fontFamily={FONT} fill={AXIS}>
      {MONTH_LABELS[index]}
    </text>
  );
};

function Panel({ panel, index }: { panel: PanelDef; index: number }) {
  const col = COLS[index % 2];
  const plotTop = PLOT_TOPS[Math.floor(index / 2)];
  const data = DAYS.map((day, i) => {
    const row: Record<string, number> = { day };
    SERIES.forEach((s) => {
      row[s.key] = panel.values[s.key][i];
    });
    return row;
  });
  const marginLeft = col.plotLeft - col.chartLeft - Y_AXIS_W;
  const marginRight = col.chartLeft + col.chartWidth - col.plotRight - 1;
  const marginBottom = CHART_H - TOP_MARGIN - 1 - PLOT_H - 1 - 30;
  const domain: [number, number] = [0, panel.yMax];

  return (
    <div style={{ position: 'absolute', left: col.chartLeft, top: plotTop - TOP_MARGIN - 1 }}>
      <LineChart
        width={col.chartWidth}
        height={CHART_H}
        data={data}
        margin={{ top: TOP_MARGIN, right: marginRight, bottom: marginBottom, left: marginLeft }}
      >
        <CartesianGrid stroke={GRID} strokeWidth={1} />
        <XAxis
          xAxisId={0}
          dataKey="day"
          type="number"
          domain={[0, 365]}
          ticks={MONTH_STARTS}
          interval={0}
          height={1}
          tickSize={0}
          tickMargin={0}
          tickLine={false}
          axisLine={{ stroke: AXIS, strokeWidth: 1 }}
          tick={bottomTick}
          allowDataOverflow
        />
        <XAxis
          xAxisId="lab"
          dataKey="day"
          type="number"
          domain={[0, 365]}
          ticks={MONTH_MIDS}
          interval={0}
          height={30}
          tickSize={0}
          tickMargin={0}
          tickLine={false}
          axisLine={false}
          tick={monthTick}
          allowDataOverflow
        />
        <XAxis
          xAxisId="top"
          orientation="top"
          dataKey="day"
          type="number"
          domain={[0, 365]}
          ticks={MONTH_STARTS}
          interval={0}
          height={1}
          tickSize={0}
          tickMargin={0}
          tickLine={false}
          axisLine={{ stroke: AXIS, strokeWidth: 1 }}
          tick={topTick}
          allowDataOverflow
        />
        <YAxis
          yAxisId={0}
          type="number"
          domain={domain}
          ticks={panel.yTicks}
          interval={0}
          width={Y_AXIS_W}
          tickSize={0}
          tickMargin={0}
          tickLine={false}
          axisLine={{ stroke: AXIS, strokeWidth: 1 }}
          tick={leftTick}
          allowDataOverflow
        />
        <YAxis
          yAxisId="right"
          orientation="right"
          type="number"
          domain={domain}
          ticks={panel.yTicks}
          interval={0}
          width={1}
          tickSize={0}
          tickMargin={0}
          tickLine={false}
          axisLine={{ stroke: AXIS, strokeWidth: 1 }}
          tick={rightTick}
          allowDataOverflow
        />
        {SERIES.map((s) => (
          <Line
            key={s.key}
            xAxisId={0}
            yAxisId={0}
            type="linear"
            dataKey={s.key}
            name={s.name}
            stroke={s.color}
            strokeWidth={2.5}
            strokeDasharray={s.dash}
            dot={false}
            activeDot={false}
            isAnimationActive={false}
          />
        ))}
      </LineChart>
    </div>
  );
}

function Legend() {
  return (
    <div
      style={{
        position: 'absolute',
        left: 10,
        top: 8,
        width: 1293,
        height: 31,
        paddingLeft: 7,
        border: `1px solid ${AXIS}`,
        display: 'flex',
        alignItems: 'center',
        fontFamily: FONT,
        fontSize: 21.4,
        color: '#000',
        background: '#fff',
        whiteSpace: 'nowrap',
        overflow: 'hidden',
      }}
    >
      {SERIES.map((s) => (
        <div key={s.key} style={{ display: 'flex', alignItems: 'center', marginRight: 15 }}>
          <svg width={63} height={8} style={{ display: 'block' }}>
            <line x1={0} y1={4} x2={63} y2={4} stroke={s.color} strokeWidth={3} strokeDasharray={s.dash} />
          </svg>
          <span style={{ marginLeft: 4, lineHeight: '24px' }}>{s.name}</span>
        </div>
      ))}
    </div>
  );
}

function Annotations() {
  return (
    <svg
      width={1318}
      height={1401}
      style={{ position: 'absolute', left: 0, top: 0, pointerEvents: 'none' }}
    >
      {PANELS.map((p, i) => {
        const col = COLS[i % 2];
        const top = PLOT_TOPS[Math.floor(i / 2)];
        return (
          <text
            key={p.title}
            x={col.plotRight - 24}
            y={top + TITLE_OFFSETS[i]}
            textAnchor="end"
            fontSize={21}
            fontFamily={FONT}
            fill="#000"
          >
            {p.title}
          </text>
        );
      })}
      {PLOT_TOPS.map((top, r) => (
        <text
          key={top}
          transform={`translate(${Y_LABEL_X[r]}, ${top + PLOT_H / 2}) rotate(-90)`}
          textAnchor="middle"
          fontSize={22}
          fontFamily={FONT}
          fill={AXIS}
        >
          Runoff (mm day
          <tspan dy={-9} fontSize={15}>-1</tspan>
          <tspan dy={9}>)</tspan>
        </text>
      ))}
      {COLS.map((c) => (
        <text
          key={c.plotLeft}
          x={(c.plotLeft + c.plotRight) / 2}
          y={1395}
          textAnchor="middle"
          fontSize={24}
          fontFamily={FONT}
          fill={AXIS}
        >
          Water year (months)
        </text>
      ))}
    </svg>
  );
}

export default function App() {
  return (
    <div style={{ position: 'absolute', left: 0, top: 0, width: 1318, height: 1401, background: '#fff' }}>
      <Legend />
      {PANELS.map((p, i) => (
        <Panel key={p.title} panel={p} index={i} />
      ))}
      <Annotations />
    </div>
  );
}
